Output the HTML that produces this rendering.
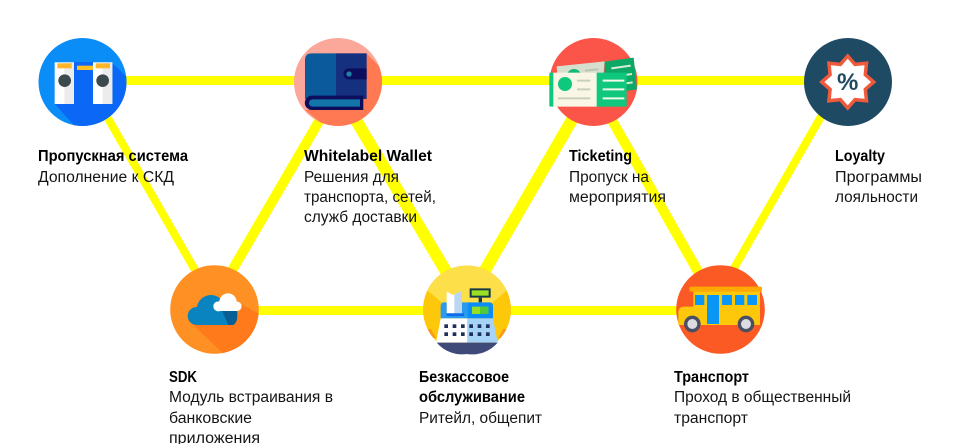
<!DOCTYPE html>
<html lang="ru">
<head>
<meta charset="utf-8">
<title>Diagram</title>
<style>
html,body{margin:0;padding:0;background:#fff;width:964px;height:444px;overflow:hidden}
svg{display:block}
text{font-family:"Liberation Sans","DejaVu Sans",sans-serif;font-size:15.5px;fill:#141414}
.b{font-weight:bold;fill:#000}
</style>
</head>
<body>
<svg width="964" height="444" viewBox="0 0 964 444" xmlns="http://www.w3.org/2000/svg">
<defs>
<clipPath id="c1"><circle cx="82.5" cy="82" r="44"/></clipPath>
<clipPath id="c2"><circle cx="338" cy="82" r="44"/></clipPath>
<clipPath id="c5"><circle cx="214.5" cy="309.5" r="44.3"/></clipPath>
<clipPath id="c6"><circle cx="467" cy="309.5" r="44"/></clipPath>
</defs>

<!-- connectors -->
<g stroke="#ffff00" fill="none">
<path d="M80 80.5H850" stroke-width="9"/>
<path d="M214 310.5H722" stroke-width="9"/>
<path d="M86 80L218 310" stroke-width="8"/>
<path d="M343 80L209 310" stroke-width="10"/>
<path d="M332 80L469 310" stroke-width="12"/>
<path d="M595 80L462 310" stroke-width="12"/>
<path d="M589 80L720 310" stroke-width="10"/>
<path d="M842 80L710 310" stroke-width="8"/>
</g>

<!-- 1 gate -->
<circle cx="82.5" cy="82" r="44" fill="#0a8df6"/>
<g clip-path="url(#c1)"><path d="M54.7 104L80 132H135V85L112.3 63V104Z" fill="#0b68f7"/><path d="M74 62H93V104H74Z" fill="#0b68f7"/></g>
<g transform="translate(20 20) scale(.3333)">
<rect x="104" y="127" width="58" height="125" fill="#fff"/><rect x="133" y="127" width="29" height="125" fill="#ececec"/>
<rect x="112" y="130" width="43" height="15" fill="#fdb52a"/><circle cx="134" cy="182" r="19" fill="#3d4a4d"/>
<rect x="219" y="127" width="58" height="125" fill="#fff"/><rect x="248" y="127" width="29" height="125" fill="#ececec"/>
<rect x="227" y="130" width="43" height="15" fill="#fdb52a"/><circle cx="248" cy="182" r="19" fill="#3d4a4d"/>
<rect x="171" y="137" width="48" height="13" fill="#fdc024"/>
</g>

<!-- 2 wallet -->
<circle cx="338" cy="82" r="44" fill="#fba799"/>
<g clip-path="url(#c2)"><path d="M366 53L395 82V130H330L305 110L363 105Z" fill="#ff7a52"/></g>
<g transform="translate(270 20) scale(.3333)">
<path d="M125 100H198V237H105V120Q105 100 125 100Z" fill="#0a5a9c"/>
<rect x="198" y="100" width="92" height="137" fill="#14307f"/>
<path d="M237 145H290V178H237A16.500 16.500 0 0 1 237 145Z" fill="#0d0d5e"/>
<circle cx="237" cy="162" r="8" fill="#1a84a6"/>
<path d="M126 227H280V270H126A21.500 21.500 0 0 1 126 227Z" fill="#0d0d5e"/>
<path d="M128 238H270V260H128A11 11 0 0 1 128 238Z" fill="#1376a8"/>
</g>

<!-- 3 tickets -->
<circle cx="593.500" cy="82" r="44" fill="#fb5549"/>
<g transform="translate(530 20) scale(.3333)">
<path d="M80 139L224 124L220 170H82Z" fill="#d6dfcd"/>
<circle cx="132" cy="168" r="21" fill="#10b877"/>
<path d="M165 152L205 148" stroke="#b9c5b3" stroke-width="6"/>
<path d="M224 125L311 113L321 208L224 222Z" fill="#0ca866"/>
<path d="M244 145L302 137M262 168L306 162M262 194L308 187" stroke="#d9ecd9" stroke-width="6"/>
<rect x="58" y="158" width="13" height="102" rx="3" fill="#10c77e"/>
<rect x="70" y="158" width="132" height="102" fill="#f9f6e6"/>
<rect x="200" y="158" width="90" height="102" fill="#10c77e"/>
<circle cx="105" cy="192" r="21" fill="#10c77e"/>
<path d="M141 182H181M141 208H181M84 235H181" stroke="#c9cfbd" stroke-width="6"/>
<path d="M218 182H283M218 208H283M218 235H283" stroke="#f4f8ea" stroke-width="6"/>
</g>

<!-- 4 loyalty -->
<circle cx="848" cy="82" r="44" fill="#1f4a63"/>
<path d="M847.700 56L855 64.400L866.500 63.200L865.300 74.700L873.700 82L865.300 89.300L866.500 100.800L855 99.600L847.700 108L840.400 99.600L828.900 100.800L830.100 89.300L821.700 82L830.100 74.700L828.900 63.200L840.400 64.400Z" fill="#fff" stroke="#f05a3c" stroke-width="3.500"/>
<text x="847.700" y="90" text-anchor="middle" style="font-size:24px;font-weight:bold;fill:#1f4a63">%</text>

<!-- 5 sdk -->
<circle cx="214.500" cy="309.500" r="44.300" fill="#ff9124"/>
<g clip-path="url(#c5)"><path d="M188 320L232 362H270V320L241 304L237 320Z" fill="#ff7a1a"/></g>
<g transform="translate(150 250) scale(.3333)">
<g fill="#0a84c0"><circle cx="183" cy="178" r="43"/><circle cx="140" cy="198" r="27"/><circle cx="235" cy="198" r="27"/><rect x="140" y="190" width="95" height="35"/></g>
<path d="M215 183H262Q266 215 235 225H250Q262 218 262 198Z" fill="#075f96"/>
<path d="M215 180L256 178Q268 205 252 222Q245 226 235 225Z" fill="#075f96"/>
<g fill="#fff"><circle cx="234" cy="156" r="26"/><circle cx="205" cy="169" r="15"/><circle cx="261" cy="169" r="14"/><rect x="205" y="165" width="56" height="18"/></g>
</g>

<!-- 6 pos -->
<circle cx="467" cy="309.500" r="44" fill="#fdc80a"/>
<g clip-path="url(#c6)">
<path d="M427 290L445 305H490L507 290L512 262H422Z" fill="#fddf4a"/>
<path d="M424 329L431 329L436 338H428Z" fill="#fb9a18"/>
<path d="M510 329L503 329L498 338H506Z" fill="#fb9a18"/>
</g>
<g transform="translate(400 250) scale(.3333)">
<path d="M140 125L160 135L186 122V190H140Z" fill="#fff"/><path d="M163 133L186 122V190H163Z" fill="#bcd6f2"/>
<path d="M209 115H272V143H209Z" fill="#14394a"/><rect x="215" y="121" width="51" height="16" fill="#9adf22"/>
<rect x="236" y="143" width="10" height="14" fill="#14394a"/>
<path d="M133 157H140V190H186V157H202V205H122V168Q122 157 133 157Z" fill="#2a9bec"/>
<rect x="140" y="190" width="52" height="8" fill="#0a6cec"/>
<path d="M202 157H268Q279 157 279 168V205H202Z" fill="#0a8df6"/>
<rect x="216" y="170" width="49" height="22" fill="#9adf22"/><rect x="240" y="170" width="25" height="22" fill="#4fc83a"/>
<path d="M122 205H202V278H108Z" fill="#fff"/>
<path d="M202 205H279L293 278H202Z" fill="#a6d4f6"/>
<g fill="#1f2f5c"><rect x="133" y="223" width="11" height="11"/><rect x="158" y="223" width="11" height="11"/><rect x="183" y="223" width="11" height="11"/><rect x="208" y="223" width="11" height="11"/><rect x="233" y="223" width="11" height="11"/><rect x="258" y="223" width="11" height="11"/><rect x="133" y="247" width="11" height="11"/><rect x="158" y="247" width="11" height="11"/><rect x="183" y="247" width="11" height="11"/><rect x="208" y="247" width="11" height="11"/><rect x="233" y="247" width="11" height="11"/><rect x="258" y="247" width="11" height="11"/></g>
<path d="M110 278H293A100 100 0 0 1 201 312A100 100 0 0 1 110 278Z" fill="#3f4a78"/>
</g>

<!-- 7 bus -->
<circle cx="720.500" cy="309.500" r="44.300" fill="#fc5a24"/>
<g transform="translate(650 250) scale(.3333)">
<path d="M130 122H330V225H85V188Q85 170 103 170H130Z" fill="#fdc80a"/>
<rect x="118" y="110" width="218" height="15" rx="5" fill="#ffa800"/>
<g fill="#0a96f5"><rect x="135" y="135" width="28" height="30"/><rect x="171" y="135" width="36" height="87"/><rect x="216" y="135" width="30" height="30"/><rect x="255" y="135" width="28" height="30"/><rect x="292" y="135" width="29" height="30"/></g>
<circle cx="127" cy="222" r="25" fill="#4a4f63"/><circle cx="127" cy="222" r="15" fill="#dcdce2"/>
<circle cx="288" cy="222" r="25" fill="#4a4f63"/><circle cx="288" cy="222" r="15" fill="#dcdce2"/>
</g>

<!-- labels -->
<text class="b" x="38" y="161" textLength="150" lengthAdjust="spacingAndGlyphs">Пропускная система</text>
<text x="38" y="182" textLength="136" lengthAdjust="spacingAndGlyphs">Дополнение к СКД</text>

<text class="b" x="304" y="161" textLength="128" lengthAdjust="spacingAndGlyphs">Whitelabel Wallet</text>
<text x="304" y="182" textLength="95" lengthAdjust="spacingAndGlyphs">Решения для</text>
<text x="304" y="202" textLength="132" lengthAdjust="spacingAndGlyphs">транспорта, сетей,</text>
<text x="304" y="222" textLength="113" lengthAdjust="spacingAndGlyphs">служб доставки</text>

<text class="b" x="569" y="161" textLength="63" lengthAdjust="spacingAndGlyphs">Ticketing</text>
<text x="569" y="182" textLength="80" lengthAdjust="spacingAndGlyphs">Пропуск на</text>
<text x="569" y="202" textLength="97" lengthAdjust="spacingAndGlyphs">мероприятия</text>

<text class="b" x="835" y="161" textLength="50" lengthAdjust="spacingAndGlyphs">Loyalty</text>
<text x="835" y="182" textLength="87" lengthAdjust="spacingAndGlyphs">Программы</text>
<text x="835" y="202" textLength="83" lengthAdjust="spacingAndGlyphs">лояльности</text>

<text class="b" x="169" y="382" textLength="28" lengthAdjust="spacingAndGlyphs">SDK</text>
<text x="169" y="402" textLength="164" lengthAdjust="spacingAndGlyphs">Модуль встраивания в</text>
<text x="169" y="423" textLength="83" lengthAdjust="spacingAndGlyphs">банковские</text>
<text x="169" y="443" textLength="91" lengthAdjust="spacingAndGlyphs">приложения</text>

<text class="b" x="419" y="382" textLength="90" lengthAdjust="spacingAndGlyphs">Безкассовое</text>
<text class="b" x="419" y="402" textLength="106" lengthAdjust="spacingAndGlyphs">обслуживание</text>
<text x="419" y="423" textLength="123" lengthAdjust="spacingAndGlyphs">Ритейл, общепит</text>

<text class="b" x="674" y="382" textLength="75" lengthAdjust="spacingAndGlyphs">Транспорт</text>
<text x="674" y="402" textLength="177" lengthAdjust="spacingAndGlyphs">Проход в общественный</text>
<text x="674" y="423" textLength="74" lengthAdjust="spacingAndGlyphs">транспорт</text>
</svg>
</body>
</html>
